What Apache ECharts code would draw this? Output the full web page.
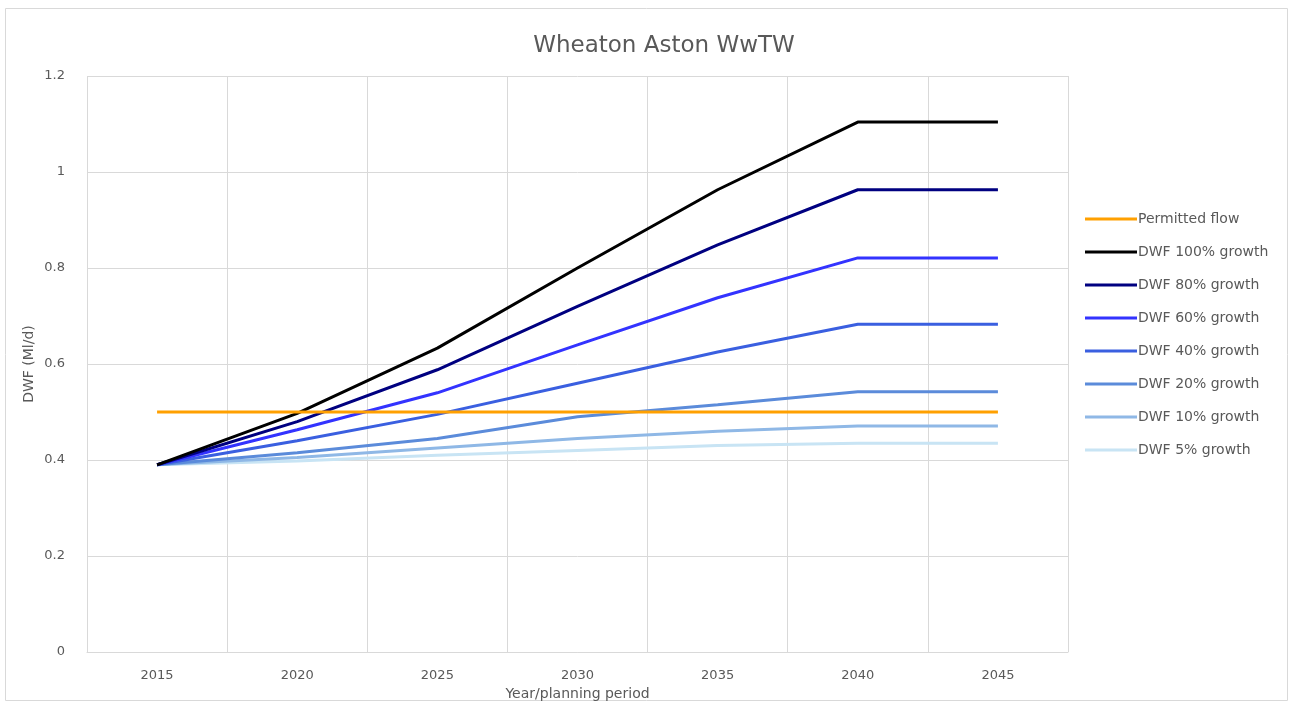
<!DOCTYPE html>
<html><head><meta charset="utf-8">
<script src="https://cdn.jsdelivr.net/npm/echarts@6/dist/echarts.min.js"></script>
<style>html,body{margin:0;padding:0;background:#fff}#c{width:1294px;height:706px}</style>
</head><body><div id="c"></div>
<script>
var years = ['2015','2020','2025','2030','2035','2040','2045'];
var yTicks = [0, 0.2, 0.4, 0.6, 0.8, 1, 1.2];
var permittedFlow = [0.5, 0.5, 0.5, 0.5, 0.5, 0.5, 0.5];
var dwf100 = [0.39, 0.497, 0.633, 0.80, 0.963, 1.104, 1.104];
var dwf80  = [0.39, 0.48, 0.588, 0.72, 0.848, 0.963, 0.963];
var dwf60  = [0.39, 0.463, 0.54, 0.64, 0.738, 0.821, 0.821];
var dwf40  = [0.39, 0.44, 0.495, 0.56, 0.625, 0.683, 0.683];
var dwf20  = [0.39, 0.415, 0.445, 0.49, 0.515, 0.542, 0.542];
var dwf10  = [0.39, 0.405, 0.425, 0.445, 0.46, 0.471, 0.471];
var dwf5   = [0.39, 0.398, 0.41, 0.42, 0.43, 0.435, 0.435];
var seriesNames = ['Permitted flow','DWF 100% growth','DWF 80% growth','DWF 60% growth','DWF 40% growth','DWF 20% growth','DWF 10% growth','DWF 5% growth'];
var seriesData = [permittedFlow, dwf100, dwf80, dwf60, dwf40, dwf20, dwf10, dwf5];
var colors = ['#FFA000','#000000','#000080','#3333FF','#3A5FE0','#5B8BDA','#8FB8E6','#C8E4F4'];

var chart = echarts.init(document.getElementById('c'));
var wide = '"DejaVu Sans", sans-serif';
chart.setOption({
  animation: false,
  textStyle: {fontFamily: wide},
  title: {text: 'Wheaton Aston WwTW', left: 659, top: 30, textAlign: 'center',
    textStyle: {fontSize: 23, fontWeight: 'normal', color: '#595959', fontFamily: wide}},
  graphic: [{type: 'rect', shape: {x: 5.5, y: 8.5, width: 1282, height: 692},
    style: {fill: 'none', stroke: '#d9d9d9', lineWidth: 1}, silent: true}],
  grid: {left: 87, right: 226, top: 76, bottom: 54},
  legend: {orient: 'vertical', left: 1080, top: 207, itemGap: 19, itemWidth: 52, itemHeight: 3,
    icon: 'rect',
    textStyle: {fontSize: 14, color: '#595959', fontFamily: wide, padding: [0,0,0,-4]},
    data: seriesNames},
  xAxis: {type: 'category', data: years, boundaryGap: true,
    name: 'Year/planning period', nameLocation: 'middle', nameGap: 32,
    nameTextStyle: {fontSize: 14, color: '#595959', fontFamily: wide},
    axisLine: {lineStyle: {color: '#d9d9d9', width: 1}},
    axisTick: {show: false},
    axisLabel: {fontSize: 13, color: '#595959', margin: 17, fontFamily: wide},
    splitLine: {show: true, lineStyle: {color: '#d9d9d9', width: 1}}},
  yAxis: {type: 'value', min: yTicks[0], max: yTicks[yTicks.length-1], interval: 0.2,
    name: 'DWF (Ml/d)', nameLocation: 'middle', nameGap: 51, nameRotate: 90, nameMoveOverlap: false,
    nameTextStyle: {fontSize: 14, color: '#595959', fontFamily: wide},
    axisLine: {show: false}, axisTick: {show: false},
    axisLabel: {fontSize: 13, color: '#595959', margin: 22, fontFamily: wide,
      formatter: function(v){ return String(Math.round(v*10)/10); }},
    splitLine: {lineStyle: {color: '#d9d9d9', width: 1}}},
  series: seriesData.map(function(d, i){
    return {name: seriesNames[i], type: 'line', data: d, symbol: 'none',
      lineStyle: {width: 3, color: colors[i]}, itemStyle: {color: colors[i]},
      z: 10 - i};
  })
});
</script></body></html>
